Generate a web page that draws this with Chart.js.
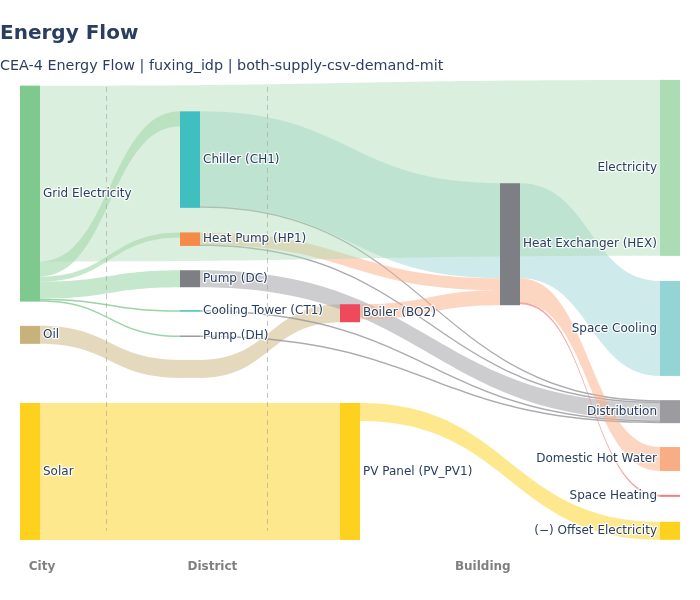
<!DOCTYPE html>
<html>
<head>
<meta charset="utf-8">
<script src="https://cdn.jsdelivr.net/npm/chart.js@4.4.1/dist/chart.umd.min.js"></script>
<style>
  html, body { margin: 0; padding: 0; background: #fff; }
  .graph_div { width: 700px; height: 600px; position: relative; }
</style>
</head>
<body>
<div class="graph_div"><canvas id="myChart"></canvas></div>
<script>
// energy in MWh/yr, last node is an unlabelled pass-through for the oil flow
const nodeNames = ['Grid Electricity', 'Oil', 'Solar', 'Chiller (CH1)', 'Heat Pump (HP1)', 'Pump (DC)',
  'Cooling Tower (CT1)', 'Pump (DH)', 'Boiler (BO2)', 'PV Panel (PV_PV1)', 'Heat Exchanger (HEX)',
  'Electricity', 'Space Cooling', 'Distribution', 'Domestic Hot Water', 'Space Heating', '(\u2212) Offset Electricity', ''];
const nodeCol = [0, 0, 0, 1, 1, 1, 1, 1, 2, 2, 3, 4, 4, 4, 4, 4, 4, 1];
const nodeY = [0.247, 0.554, 0.851, 0.173, 0.346, 0.432, 0.502, 0.557, 0.507, 0.851, 0.357,
  0.191, 0.540, 0.721, 0.824, 0.904, 0.980, 0.628];
const nodeColors = ['#7fc98f', '#c8b27c', '#fdd11e', '#3fbfc0', '#f58a4b', '#7e7e85', '#3fbfc0', '#9b9ba0',
  '#ef4a5b', '#fdd11e', '#7e7e85', '#acdcb4', '#94d4d4', '#9b9ba0', '#f9ad84', '#f08080', '#fdd11e',
  'rgba(201,178,124,0.5)'];

const linkSource = [0, 0, 0, 0, 0, 1, 17, 2, 3, 3, 4, 4, 5, 6, 7, 8, 10, 10, 10, 9, 0];
const linkTarget = [3, 4, 5, 6, 7, 17, 8, 9, 10, 13, 10, 13, 13, 13, 13, 10, 12, 14, 15, 16, 11];
const linkValue = [150, 50, 170, 15, 15, 180, 180, 1370, 950, 15, 120, 15, 170, 15, 15, 150, 950, 240, 20, 180, 1760];
const linkColors = [
  'rgba(127,201,143,0.45)', 'rgba(127,201,143,0.45)', 'rgba(127,201,143,0.45)',
  'rgba(127,201,143,0.8)', 'rgba(127,201,143,0.8)', 'rgba(201,178,124,0.5)', 'rgba(201,178,124,0.5)',
  'rgba(253,209,30,0.5)', 'rgba(180,222,222,0.65)', 'rgba(150,150,155,0.8)', 'rgba(249,173,132,0.5)',
  'rgba(150,150,155,0.8)', 'rgba(155,155,160,0.5)', 'rgba(150,150,155,0.8)', 'rgba(150,150,155,0.8)',
  'rgba(249,173,132,0.5)', 'rgba(180,222,222,0.65)', 'rgba(249,173,132,0.5)', 'rgba(240,128,128,0.7)',
  'rgba(253,209,30,0.5)', 'rgba(172,220,180,0.45)'];

const stageNames = ['City', 'District', 'Building'];
const stageX = [0.075, 1.14, 2.83];
const dividerX = [0.473, 1.483];

const Y_MAX = 4600;
const NODE_W = 20;
const FONT = '"DejaVu Sans", Verdana, sans-serif';

const sankeyPlugin = {
  id: 'sankey',
  beforeDatasetsDraw(chart) {
    const { ctx, scales: { x, y } } = chart;

    const nodes = nodeNames.map((name, i) => {
      let inSum = 0, outSum = 0;
      linkValue.forEach((v, j) => {
        if (linkTarget[j] === i) inSum += v;
        if (linkSource[j] === i) outSum += v;
      });
      const h = Math.max(inSum, outSum);
      const top = nodeY[i] * Y_MAX - h / 2;
      return { name, col: nodeCol[i], top, h, color: nodeColors[i] };
    });

    const links = linkValue.map((v, j) => ({ s: linkSource[j], t: linkTarget[j], v, color: linkColors[j] }));

    // stack links on each node
    nodes.forEach((n, i) => {
      let off = n.top;
      links.filter(l => l.s === i).sort((a, b) => nodes[a.t].top - nodes[b.t].top)
        .forEach(l => { l.y0 = off; off += l.v; });
      off = n.top;
      links.filter(l => l.t === i).sort((a, b) => nodes[a.s].top - nodes[b.s].top)
        .forEach(l => { l.y1 = off; off += l.v; });
    });

    ctx.save();
    links.forEach(l => {
      const x0 = x.getPixelForValue(nodes[l.s].col) + NODE_W / 2;
      const x1 = x.getPixelForValue(nodes[l.t].col) - NODE_W / 2;
      const xm = (x0 + x1) / 2;
      const a0 = y.getPixelForValue(l.y0), b0 = y.getPixelForValue(l.y0 + l.v);
      const a1 = y.getPixelForValue(l.y1), b1 = y.getPixelForValue(l.y1 + l.v);
      ctx.beginPath();
      ctx.moveTo(x0, a0);
      ctx.bezierCurveTo(xm, a0, xm, a1, x1, a1);
      ctx.lineTo(x1, b1);
      ctx.bezierCurveTo(xm, b1, xm, b0, x0, b0);
      ctx.closePath();
      ctx.fillStyle = l.color;
      ctx.fill();
    });

    // dashed stage dividers
    ctx.strokeStyle = 'rgba(170,170,170,0.7)';
    ctx.lineWidth = 1;
    ctx.setLineDash([5, 4]);
    dividerX.forEach(d => {
      const px = Math.round(x.getPixelForValue(d)) + 0.5;
      ctx.beginPath();
      ctx.moveTo(px, y.getPixelForValue(0.015 * Y_MAX));
      ctx.lineTo(px, y.getPixelForValue(0.98 * Y_MAX));
      ctx.stroke();
    });
    ctx.setLineDash([]);

    // nodes
    nodes.forEach(n => {
      const cx = x.getPixelForValue(n.col);
      const t = y.getPixelForValue(n.top);
      const b = y.getPixelForValue(n.top + n.h);
      ctx.fillStyle = n.color;
      ctx.fillRect(cx - NODE_W / 2, t, NODE_W, b - t);
    });

    // node labels
    ctx.font = '12px ' + FONT;
    ctx.textBaseline = 'middle';
    ctx.lineJoin = 'round';
    nodes.forEach(n => {
      if (!n.name) return;
      const cx = x.getPixelForValue(n.col);
      const cy = y.getPixelForValue(n.top + n.h / 2);
      let tx;
      if (n.col === 4) {
        ctx.textAlign = 'right';
        tx = cx - NODE_W / 2 - 3;
      } else {
        ctx.textAlign = 'left';
        tx = cx + NODE_W / 2 + 3;
      }
      ctx.strokeStyle = 'rgba(255,255,255,0.85)';
      ctx.lineWidth = 2.5;
      ctx.strokeText(n.name, tx, cy);
      ctx.fillStyle = '#2a3f5f';
      ctx.fillText(n.name, tx, cy);
    });

    // stage labels under the columns
    ctx.font = 'bold 12px ' + FONT;
    ctx.textAlign = 'center';
    ctx.fillStyle = '#808080';
    stageNames.forEach((s, i) => {
      ctx.fillText(s, x.getPixelForValue(stageX[i]), y.getPixelForValue(1.059 * Y_MAX));
    });
    ctx.restore();
  }
};

const ctx = document.getElementById('myChart');
new Chart(ctx, {
  type: 'scatter',
  data: { datasets: [{ data: [] }] },
  options: {
    responsive: true,
    maintainAspectRatio: false,
    animation: false,
    layout: { padding: { left: 0, right: 0, top: 0, bottom: 60 } },
    scales: {
      x: { display: false, min: -0.1875, max: 4.1875 },
      y: { display: false, min: 0, max: Y_MAX, reverse: true }
    },
    plugins: {
      legend: { display: false },
      tooltip: { enabled: false },
      title: {
        display: true,
        text: 'Energy Flow',
        align: 'start',
        color: '#2a3f5f',
        font: { family: FONT, size: 20, weight: 'bold' },
        padding: { top: 22, bottom: 12 }
      },
      subtitle: {
        display: true,
        text: 'CEA-4 Energy Flow | fuxing_idp | both-supply-csv-demand-mit',
        align: 'start',
        color: '#2a3f5f',
        font: { family: FONT, size: 14.35 },
        padding: { top: 0, bottom: 4.8 }
      }
    }
  },
  plugins: [sankeyPlugin]
});
</script>
</body>
</html>
